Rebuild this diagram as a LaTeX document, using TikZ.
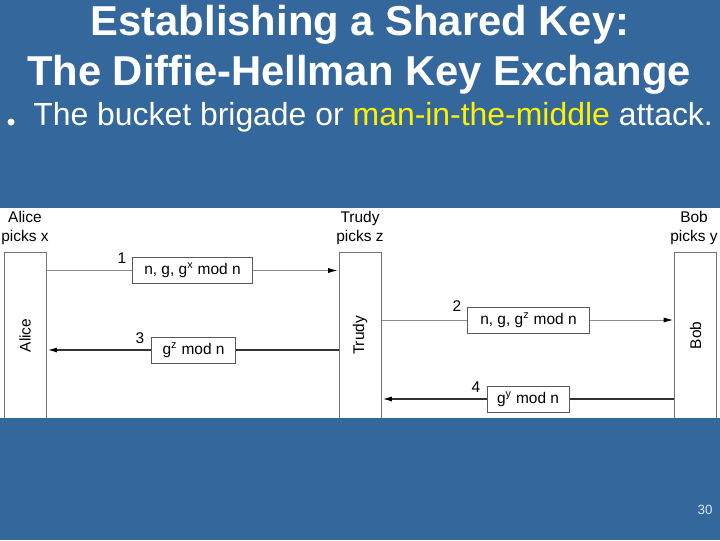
\documentclass[tikz,border=0pt]{standalone}
\usepackage{fontspec}
\setmainfont{Liberation Sans}
\usetikzlibrary{arrows.meta}
\pgfdeclarelayer{edgelayer}
\pgfdeclarelayer{nodelayer}
\pgfsetlayers{edgelayer,nodelayer,main}
\definecolor{slideblue}{RGB}{52,103,156}
\definecolor{pagenum}{RGB}{215,228,250}
\tikzstyle{lifeline}=[rectangle,draw=black!55,fill=white,minimum width=1.05cm,minimum height=4.175cm,inner sep=0pt]
\tikzstyle{party}=[font=\fontsize{11}{13}\selectfont,align=center,inner sep=0pt]
\tikzstyle{message}=[rectangle,draw=black!65,fill=white,line width=0.6pt,minimum height=0.65cm,inner sep=0pt,font=\fontsize{11}{13}\selectfont]
\tikzstyle{step_num}=[font=\fontsize{11}{13}\selectfont,inner sep=0pt]
\tikzstyle{plain_msg}=[draw=black!45,line width=0.5pt]
\tikzstyle{bold_msg}=[draw=black!80,line width=0.9pt]
\tikzstyle{tip}=[-{Latex[length=6.5pt,width=3.6pt,color=black]},shorten >=1pt]

\begin{document}
\begin{tikzpicture}[x=0.025cm,y=-0.025cm]
	\useasboundingbox (0,0) rectangle (720,540);
	\begin{pgfonlayer}{edgelayer}
		\fill [slideblue] (0,0) rectangle (720,540);
		\fill [white] (0,208) rectangle (720,418);
	\end{pgfonlayer}
	\begin{pgfonlayer}{nodelayer}
		\node [style=lifeline] (alice) at (25, 335.5) {};
		\node [style=lifeline] (trudy) at (360, 335.5) {};
		\node [style=lifeline] (bob) at (695.5, 335.5) {};
		\node [style=party, rotate=90] (alicename) at (alice) {Alice};
		\node [style=party, rotate=90] (trudyname) at (trudy) {Trudy};
		\node [style=party, rotate=90] (bobname) at (bob) {Bob};
		\node [style=party] (alicehead) at (25, 228) {Alice\\picks x};
		\node [style=party] (trudyhead) at (360, 228) {Trudy\\picks z};
		\node [style=party] (bobhead) at (694, 228) {Bob\\picks y};
		\node [style=message, minimum width=2.98cm] (m1) at (192.5, 270.5) {n, g, g\textsuperscript{x} mod n};
		\node [style=message, minimum width=3.03cm] (m2) at (528.5, 320) {n, g, g\textsuperscript{z} mod n};
		\node [style=message, minimum width=2.08cm] (m3) at (193.5, 350) {g\textsuperscript{z} mod n};
		\node [style=message, minimum width=2.05cm] (m4) at (528, 399) {g\textsuperscript{y} mod n};
		\node [style=step_num] (n1) at (122, 258) {1};
		\node [style=step_num] (n2) at (457, 306) {2};
		\node [style=step_num] (n3) at (140, 338) {3};
		\node [style=step_num] (n4) at (476, 387) {4};
	\end{pgfonlayer}
	\begin{pgfonlayer}{edgelayer}
		\draw [style=plain_msg] (alice.east |- m1) to (m1);
		\draw [style=plain_msg, style=tip] (m1) to (trudy.west |- m1);
		\draw [style=plain_msg] (trudy.east |- m2) to (m2);
		\draw [style=plain_msg, style=tip] (m2) to (bob.west |- m2);
		\draw [style=bold_msg] (trudy.west |- m3) to (m3);
		\draw [style=bold_msg, style=tip] (m3) to (alice.east |- m3);
		\draw [style=bold_msg] (bob.west |- m4) to (m4);
		\draw [style=bold_msg, style=tip] (m4) to (trudy.east |- m4);
	\end{pgfonlayer}
	% slide text and lower band
	\fill [slideblue] (0,418) rectangle (720,540);
	\node [anchor=base, text=white, font=\bfseries\fontsize{29.7}{35}\selectfont] (title1) at (360, 35) {Establishing a Shared Key:};
	\node [anchor=base, text=white, font=\bfseries\fontsize{29.7}{35}\selectfont] (title2) at (359, 85) {The Diffie-Hellman Key Exchange};
	\fill [white] (11, 122) circle (3.5);
	\node [anchor=base west, inner sep=0pt, text=white, font=\fontsize{22.7}{27}\selectfont] (bullet) at (33, 125) {The bucket brigade or \textcolor{yellow}{man-in-the-middle} attack.};
	\node [text=pagenum, font=\fontsize{9.5}{11}\selectfont] (page) at (705, 510) {30};
\end{tikzpicture}
\end{document}
